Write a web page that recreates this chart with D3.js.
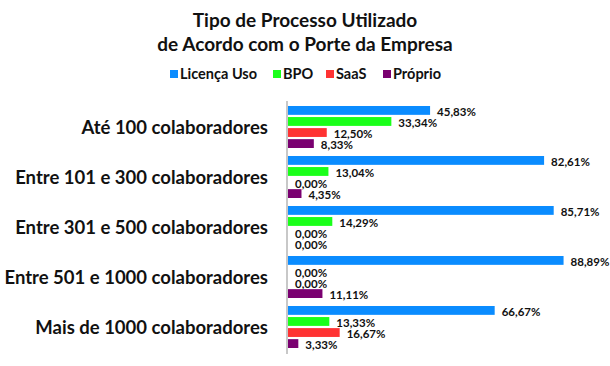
<!DOCTYPE html>
<html><head><meta charset="utf-8">
<script src="https://cdn.jsdelivr.net/npm/d3@7"></script>
<style>body{margin:0;background:#fff}svg{display:block;font-family:Lato,"Open Sans",sans-serif}</style>
</head><body><svg id="c" width="610" height="366"></svg>
<script>
const categories = ["Até 100 colaboradores","Entre 101 e 300 colaboradores","Entre 301 e 500 colaboradores","Entre 501 e 1000 colaboradores","Mais de 1000 colaboradores"];
const seriesNames = ["Licença Uso","BPO","SaaS","Próprio"];
const licencaUso = [45.83, 82.61, 85.71, 88.89, 66.67];
const bpo = [33.34, 13.04, 14.29, 0.00, 13.33];
const saas = [12.50, 0.00, 0.00, 0.00, 16.67];
const proprio = [8.33, 4.35, 0.00, 11.11, 3.33];
const colors = ["#0a8cff","#1aff1a","#ff3333","#7a0070"];
const titleLines = ["Tipo de Processo Utilizado","de Acordo com o Porte da Empresa"];

const series = [licencaUso, bpo, saas, proprio];
const svg = d3.select("#c");
const x = d3.scaleLinear().domain([0,100]).range([288,598]);
const y0 = d3.scaleBand().domain(categories).range([102,352]).paddingInner(0.16).paddingOuter(0.08);
const y1 = d3.scaleBand().domain(seriesNames).range([0,y0.bandwidth()]).paddingInner(0.2);

svg.append("g").selectAll("text").data(titleLines).join("text")
  .attr("x",305).attr("y",(d,i)=>27+i*24).attr("text-anchor","middle")
  .attr("font-size",19).attr("font-weight","bold").attr("fill","#111").text(d=>d);

// legend
const legX = [170,273,326,383];
const lg = svg.append("g");
seriesNames.forEach((n,i)=>{
  lg.append("rect").attr("x",legX[i]).attr("y",70).attr("width",8).attr("height",8).attr("fill",colors[i]);
  lg.append("text").attr("x",legX[i]+10).attr("y",79).attr("font-size",14.5).attr("font-weight","bold").attr("fill","#111").text(n);
});

// axis line
svg.append("line").attr("x1",287).attr("x2",287).attr("y1",101).attr("y2",354).attr("stroke","#c8c8c8").attr("stroke-width",2);

// category labels
svg.append("g").selectAll("text").data(categories).join("text")
  .attr("x",268).attr("y",d=>y0(d)+y0.bandwidth()/2+6.5).attr("text-anchor","end")
  .attr("font-size",18.5).attr("font-weight","bold").attr("fill","#111").text(d=>d);

const g = svg.append("g");
categories.forEach((c,ci)=>{
  series.forEach((s,si)=>{
    const v = s[ci];
    const yy = y0(c)+y1(seriesNames[si]);
    g.append("rect").attr("x",x(0)).attr("y",yy).attr("width",x(v)-x(0)).attr("height",y1.bandwidth()).attr("fill",colors[si]);
    g.append("text").attr("x",x(v)+7).attr("y",yy+y1.bandwidth()+1).attr("font-size",11.5).attr("font-weight","bold").attr("fill","#111")
      .text(v.toFixed(2).replace(".",",")+"%");
  });
});
</script></body></html>
